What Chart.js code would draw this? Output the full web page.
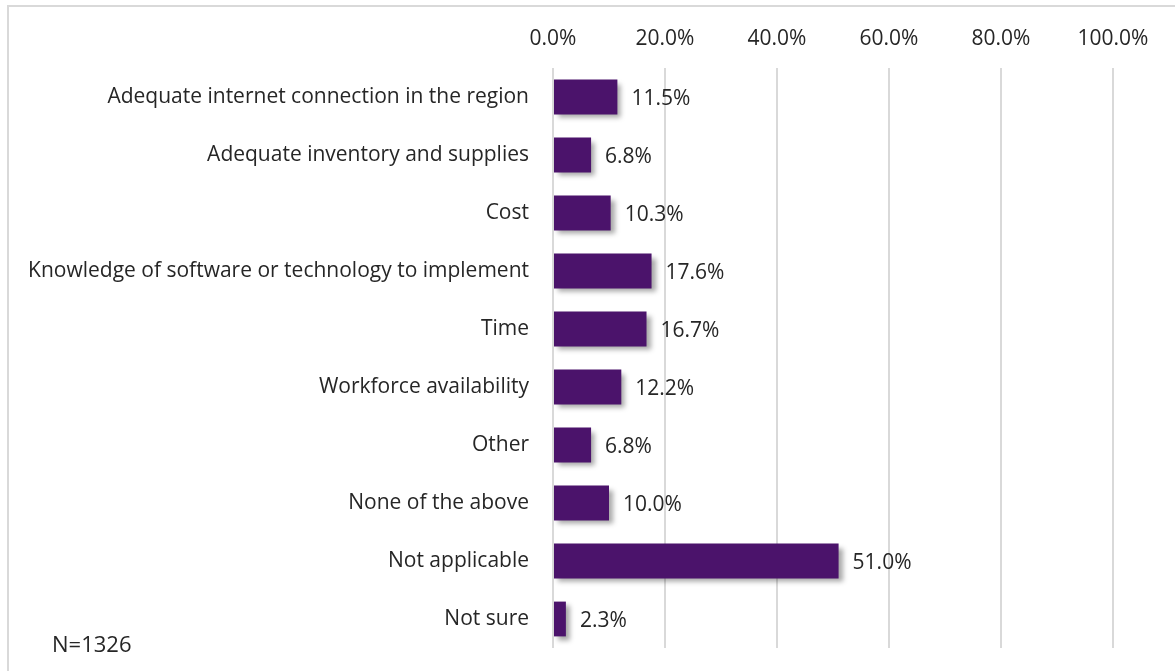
<!DOCTYPE html>
<html>
<head>
<meta charset="utf-8">
<script src="https://cdn.jsdelivr.net/npm/chart.js@4"></script>
<style>
  html, body { margin: 0; padding: 0; background: #fff; }
  #wrap { position: relative; width: 1175px; height: 671px; overflow: hidden; }
  #frame { position: absolute; left: 7px; top: 5px; width: 1200px; height: 700px; border: 2px solid #d9d9d9; box-sizing: border-box; }
  #n { position: absolute; left: 52px; top: 628px; font: 22px "Open Sans", sans-serif; color: #262626; }
  canvas { position: absolute; left: 0; top: 0; }
</style>
</head>
<body>
<div id="wrap">
  <div id="frame"></div>
  <canvas id="myChart" width="1175" height="671"></canvas>
  <div id="n">N=1326</div>
</div>
<script>
const categories = [
  'Adequate internet connection in the region',
  'Adequate inventory and supplies',
  'Cost',
  'Knowledge of software or technology to implement',
  'Time',
  'Workforce availability',
  'Other',
  'None of the above',
  'Not applicable',
  'Not sure'
];
const shares = [11.5, 6.8, 10.3, 17.6, 16.7, 12.2, 6.8, 10.0, 51.0, 2.3];
const tickValues = [0, 20, 40, 60, 80, 100];

const FONT = '"Open Sans", sans-serif';

// drop shadow behind the bars
const barShadow = {
  id: 'barShadow',
  beforeDatasetDraw(chart) {
    const c = chart.ctx;
    c.save();
    c.shadowColor = 'rgba(0,0,0,0.35)';
    c.shadowBlur = 5;
    c.shadowOffsetX = 4;
    c.shadowOffsetY = 4;
  },
  afterDatasetDraw(chart) {
    chart.ctx.restore();
  }
};

// value labels after each bar end
const valueLabels = {
  id: 'valueLabels',
  afterDatasetsDraw(chart) {
    const c = chart.ctx;
    const meta = chart.getDatasetMeta(0);
    c.save();
    c.font = '21px ' + FONT;
    c.fillStyle = '#262626';
    c.textAlign = 'left';
    c.textBaseline = 'middle';
    meta.data.forEach((bar, i) => {
      c.fillText(shares[i].toFixed(1) + '%', bar.x + 14, bar.y + 2);
    });
    c.restore();
  }
};

const ctx = document.getElementById('myChart').getContext('2d');
new Chart(ctx, {
  type: 'bar',
  data: {
    labels: categories,
    datasets: [{
      data: shares,
      backgroundColor: '#4b136b',
      borderWidth: 0,
      barPercentage: 0.6,
      categoryPercentage: 1.0
    }]
  },
  options: {
    indexAxis: 'y',
    responsive: false,
    animation: false,
    layout: { padding: { left: 0, right: 62, top: 28, bottom: 23 } },
    plugins: { legend: { display: false }, tooltip: { enabled: false } },
    scales: {
      x: {
        position: 'top',
        min: 0,
        max: 100,
        afterBuildTicks(scale) {
          scale.ticks = tickValues.map(v => ({ value: v }));
        },
        afterFit(scale) { scale.height = 40; },
        grid: { color: '#d9d9d9', lineWidth: 2, drawTicks: false },
        border: { display: false },
        ticks: {
          padding: 16,
          color: '#262626',
          font: { family: FONT, size: 21 },
          callback: v => v.toFixed(1) + '%'
        }
      },
      y: {
        afterFit(scale) { scale.width = 553; },
        // hidden tick marks give the gap between labels and bars
        grid: { display: false, drawTicks: true, tickLength: 24 },
        border: { display: false },
        ticks: {
          padding: 0,
          color: '#262626',
          font: { family: FONT, size: 21 }
        }
      }
    }
  },
  plugins: [barShadow, valueLabels]
});
</script>
</body>
</html>
